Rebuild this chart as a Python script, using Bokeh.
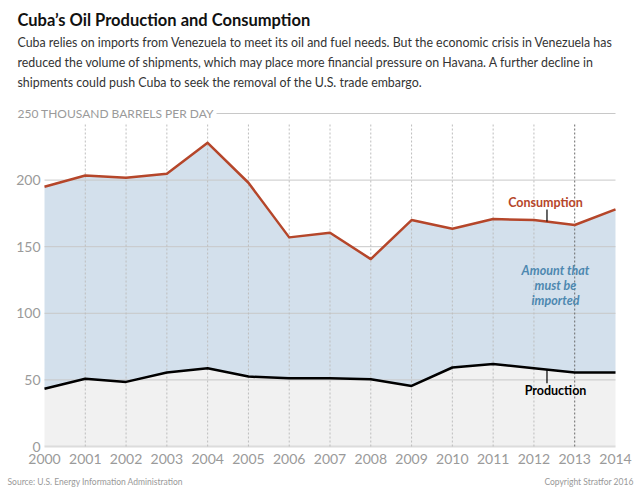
from bokeh.plotting import figure
from bokeh.models import Label, ColumnDataSource
from bokeh.core.properties import value
from bokeh.embed import file_html
from bokeh.resources import INLINE

# Cuba oil production and consumption, thousand barrels per day
years = list(range(2000, 2015))
consumption = [195, 203.5, 201.7, 204.7, 228, 198, 157, 160.5, 140.7, 170, 163.5, 170.8, 170, 166.3, 178]
production = [43.3, 50.8, 48.5, 55.5, 58.7, 52.5, 51.2, 51.2, 50.5, 45.5, 59.3, 62, 58.7, 55.5, 55.5]
y_ticks = [0, 50, 100, 150, 200]
y_top = 250
y_top_label = "250 THOUSAND BARRELS PER DAY"

# canvas and plotting-area geometry (pixels)
W, H = 640, 490
LEFT, RIGHT, TOP, BOTTOM = 44, 25, 113, 44
X0, X1 = 2000, 2014
Y0, Y1 = 0, 250
XPX = (X1 - X0) / (W - LEFT - RIGHT)   # data units per pixel
YPX = (Y1 - Y0) / (H - TOP - BOTTOM)


def px_x(px):
    return X0 + (px - LEFT) * XPX


def px_y(py):
    return Y0 + (H - BOTTOM - py) * YPX


FONT = value("Lato")
GRAY_TEXT = "#9a9a9a"
RED = "#b5462a"
BLUE_TEXT = "#4d88b0"

p = figure(width=W, height=H,
           x_range=(px_x(0), px_x(W)), y_range=(px_y(H), px_y(0)),
           x_axis_location=None, y_axis_location=None,
           output_backend="svg", toolbar_location=None,
           min_border=0)
p.outline_line_color = None
p.background_fill_color = "white"
p.border_fill_color = "white"
p.grid.visible = False

src = ColumnDataSource(dict(year=years, cons=consumption, prod=production,
                            zero=[0] * len(years)))

# areas: domestic production (gray) and the import gap (blue)
p.varea(x="year", y1="zero", y2="prod", source=src, fill_color="#f1f1f1")
p.varea(x="year", y1="prod", y2="cons", source=src, fill_color="#d3e0ec")

# horizontal grid lines
grid_vals = y_ticks[1:]
p.segment(x0=[X0] * len(grid_vals), y0=grid_vals, x1=[X1] * len(grid_vals), y1=grid_vals,
          line_color="#c8c8c8", line_width=1)
p.segment(x0=[px_x(216)], y0=[y_top], x1=[X1], y1=[y_top],
          line_color="#c8c8c8", line_width=1)

# baseline
p.segment(x0=[X0], y0=[0], x1=[X1], y1=[0], line_color="#dcdcdc", line_width=2)

# vertical dotted year guides
guide_years = years[1:-1]
guide_colors = ["#bdbdbd"] * (len(guide_years) - 1) + ["#6a6a6a"]
p.segment(x0=guide_years, y0=[0] * len(guide_years), x1=guide_years,
          y1=[243] * len(guide_years), line_color=guide_colors,
          line_dash="2 2", line_width=1)

# series lines
p.line(years, consumption, line_color=RED, line_width=2.5, line_join="round")
p.line(years, production, line_color="black", line_width=2.5, line_join="round")

# tick labels
p.text(x=years, y=[px_y(458)] * len(years), text=[str(y) for y in years],
       text_font=FONT, text_font_size="14px", text_color=GRAY_TEXT,
       text_align="center", text_baseline="middle")
p.text(x=[px_x(40)] * len(y_ticks), y=y_ticks, text=[str(v) for v in y_ticks],
       text_font=FONT, text_font_size="14px", text_color=GRAY_TEXT,
       text_align="right", text_baseline="middle")
p.text(x=[px_x(17)], y=[y_top], text=[y_top_label],
       text_font=FONT, text_font_size="12px", text_color=GRAY_TEXT,
       text_align="left", text_baseline="middle")

# series annotations
lead_x = 2012.32
p.segment(x0=[lead_x], y0=[169], x1=[lead_x], y1=[178],
          line_color="black", line_width=1.2)
p.segment(x0=[lead_x], y0=[57.6], x1=[lead_x], y1=[47.5],
          line_color="black", line_width=1.2)
p.add_layout(Label(x=px_x(545), y=px_y(202), text="Consumption",
                   text_font="Lato", text_font_size="12.5px", text_font_style="bold",
                   text_color=RED, text_align="center", text_baseline="middle"))
p.add_layout(Label(x=px_x(555), y=px_y(390), text="Production",
                   text_font="Lato", text_font_size="12.5px", text_font_style="bold",
                   text_color="black", text_align="center", text_baseline="middle"))
p.add_layout(Label(x=px_x(555), y=px_y(285), text="Amount that\nmust be\nimported",
                   text_font="Lato", text_font_size="12.5px", text_font_style="bold italic",
                   text_color=BLUE_TEXT, text_align="center", text_baseline="middle",
                   text_line_height=1.0))

# title and description
p.add_layout(Label(x=px_x(17), y=px_y(19), text="Cuba\u2019s Oil Production and Consumption",
                   text_font="Lato", text_font_size="16.5px", text_font_style="bold",
                   text_color="#111111", text_baseline="middle"))
desc = [
    "Cuba relies on imports from Venezuela to meet its oil and fuel needs. But the economic crisis in Venezuela has",
    "reduced the volume of shipments, which may place more financial pressure on Havana. A further decline in",
    "shipments could push Cuba to seek the removal of the U.S. trade embargo.",
]
for i, line in enumerate(desc):
    p.add_layout(Label(x=px_x(17), y=px_y(42 + 20 * i), text=line,
                       text_font="Lato", text_font_size="12.4px",
                       text_color="#333333", text_baseline="middle"))

# footer
p.add_layout(Label(x=px_x(7), y=px_y(481), text="Source: U.S. Energy Information Administration",
                   text_font="Lato", text_font_size="8.5px", text_color="#999999",
                   text_baseline="middle"))
p.add_layout(Label(x=px_x(633), y=px_y(481), text="Copyright Stratfor 2016",
                   text_font="Lato", text_font_size="8.5px", text_color="#999999",
                   text_baseline="middle", text_align="right"))

open("out.html", "w").write(file_html(p, INLINE))
